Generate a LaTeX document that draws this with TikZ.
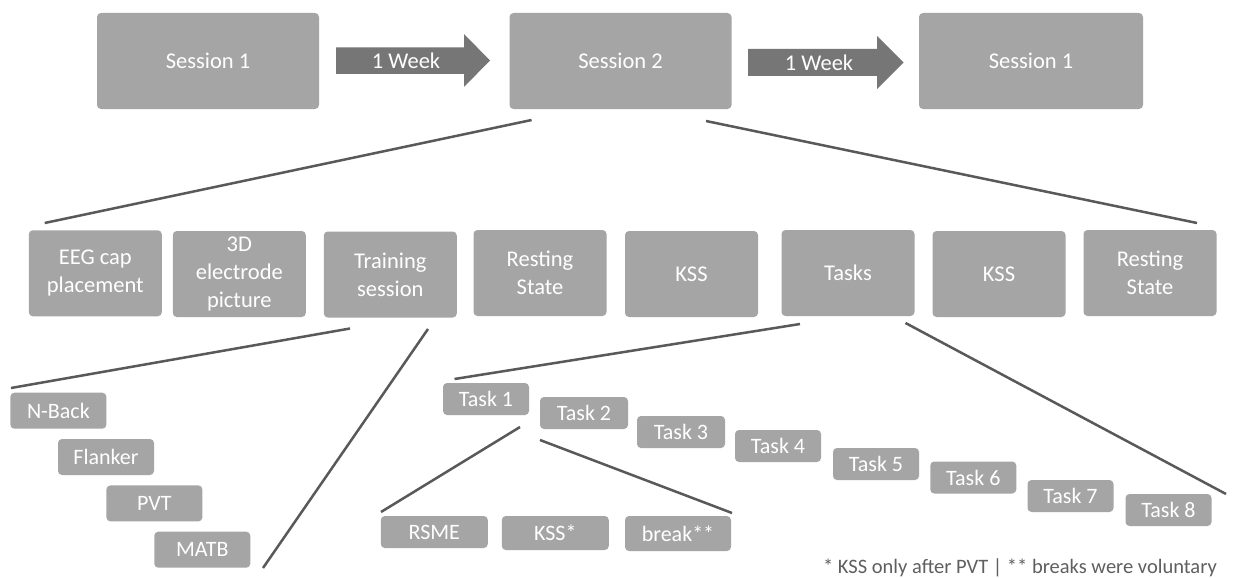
\documentclass[tikz,border=0pt]{standalone}
\usepackage{fontspec}
\setmainfont{Carlito}
\definecolor{boxgray}{HTML}{A5A5A5}
\definecolor{arrowgray}{HTML}{767676}
\definecolor{linegray}{HTML}{595959}
\definecolor{notegray}{HTML}{5F5F5F}
\begin{document}
\begin{tikzpicture}[x=1pt,y=-1pt,
  box/.style={fill=boxgray,rounded corners=4pt,text=white,align=center,inner sep=0pt,
    font=\fontsize{22.5}{28}\selectfont},
  bigbox/.style={box,minimum width=222pt,minimum height=96pt},
  midbox/.style={box,minimum width=133pt,minimum height=86pt},
  subbox/.style={box,minimum width=96pt,minimum height=36pt,font=\fontsize{22}{26}\selectfont},
  taskbox/.style={box,minimum width=86pt,minimum height=32pt,font=\fontsize{22}{26}\selectfont},
  weekarrow/.style={fill=arrowgray},
  conn/.style={draw=linegray,line width=2.5pt},
  lbl/.style={text=white,font=\fontsize{22.5}{28}\selectfont,inner sep=0pt}]
\useasboundingbox (0,0) rectangle (1235,578);
\fill[white] (0,0) rectangle (1235,578);
% top row
\node[bigbox] (s1) at (208,61) {Session 1};
\node[bigbox] (s2) at (620.5,61) {Session 2};
\node[bigbox,minimum width=224pt] (s3) at (1031,61) {Session 1};
% week arrows
\fill[weekarrow] (336,47.5) -- (464,47.5) -- (464,34) -- (490,60.5) -- (464,87) -- (464,74) -- (336,74) -- cycle;
\node[lbl] (w1) at (406,61) {1 Week};
\fill[weekarrow] (748,49) -- (877,49) -- (877,36) -- (903.5,62.5) -- (877,89) -- (877,76) -- (748,76) -- cycle;
\node[lbl] (w2) at (819,63) {1 Week};
% middle row
\node[midbox] (eeg) at (95.3,273.3) {EEG cap\\placement};
\node[midbox] (pic) at (239.3,274) {3D\\electrode\\picture};
\node[midbox] (train) at (390.3,274.5) {Training\\session};
\node[midbox] (rest1) at (540,273) {Resting\\State};
\node[midbox] (kss1) at (691.5,274) {KSS};
\node[midbox] (tasks) at (848,273) {Tasks};
\node[midbox] (kss2) at (999,274) {KSS};
\node[midbox] (rest2) at (1150,273) {Resting\\State};
% training sub-boxes
\node[subbox] (nback) at (58.4,410.7) {N-Back};
\node[subbox] (flank) at (106,457) {Flanker};
\node[subbox] (pvt) at (154.4,503.4) {PVT};
\node[subbox] (matb) at (202.3,549.7) {MATB};
% tasks
\node[taskbox] (t1) at (486,399) {Task 1};
\node[taskbox,minimum width=88pt] (t2) at (584,413) {Task 2};
\node[taskbox,minimum width=88pt] (t3) at (681,432) {Task 3};
\node[taskbox] (t4) at (778,446) {Task 4};
\node[taskbox] (t5) at (876,464) {Task 5};
\node[taskbox] (t6) at (973.3,477.5) {Task 6};
\node[taskbox] (t7) at (1070.5,496) {Task 7};
\node[taskbox] (t8) at (1168.5,510) {Task 8};
% task 1 sub-boxes
\node[taskbox,minimum width=107pt,minimum height=32pt] (rsme) at (434.3,532) {RSME};
\node[taskbox,minimum width=107pt,minimum height=34pt] (kssx) at (555.3,533) {KSS*};
\node[taskbox,minimum width=106pt,minimum height=35pt] (brk) at (678,533.5) {break**};
% connector end points
\coordinate (s2l) at (531.6,120);
\coordinate (s2r) at (706,121);
\coordinate (eegtop) at (44.7,223);
\coordinate (resttop) at (1197,223);
\coordinate (trl) at (350,328.5);
\coordinate (trr) at (428,329);
\coordinate (nbtop) at (11,388);
\coordinate (matbend) at (263,568);
\coordinate (tal) at (800,324);
\coordinate (tar) at (905.5,323);
\coordinate (t1top) at (454.5,379);
\coordinate (t8end) at (1226,494);
\coordinate (t1l) at (520,427);
\coordinate (t1r) at (540,440);
\coordinate (rsmetop) at (381,512);
\coordinate (brktop) at (732,513);
% connectors
\draw[conn] (s2l) -- (eegtop);
\draw[conn] (s2r) -- (resttop);
\draw[conn] (trl) -- (nbtop);
\draw[conn] (trr) -- (matbend);
\draw[conn] (tal) -- (t1top);
\draw[conn] (tar) -- (t8end);
\draw[conn] (t1l) -- (rsmetop);
\draw[conn] (t1r) -- (brktop);
% footnote
\node[anchor=base east,inner sep=0pt,text=notegray,font=\fontsize{20.5}{24}\selectfont] (note) at (1217,573) {* KSS only after PVT | ** breaks were voluntary};
\end{tikzpicture}
\end{document}
